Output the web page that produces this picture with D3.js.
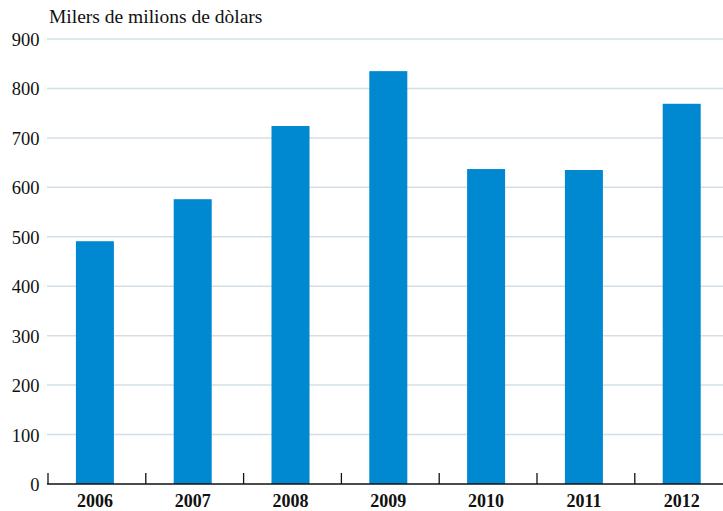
<!DOCTYPE html>
<html>
<head>
<meta charset="utf-8">
<script src="https://cdn.jsdelivr.net/npm/d3@7"></script>
<style>
  body { margin: 0; background: #fff; }
  text { font-family: "Liberation Serif", "DejaVu Serif", serif; fill: #111; }
</style>
</head>
<body>
<div id="chart"></div>
<script>
const years = ["2006", "2007", "2008", "2009", "2010", "2011", "2012"];
const values = [491, 576, 724, 835, 637, 635, 769];
const yTicks = [0, 100, 200, 300, 400, 500, 600, 700, 800, 900];

const width = 723,
  height = 511;
const margin = { top: 39, right: 0, bottom: 27, left: 47 };

const svg = d3.select("#chart")
  .append("svg")
  .attr("width", width)
  .attr("height", height);

const x = d3.scaleBand()
  .domain(years)
  .range([margin.left, margin.left + 7 * 97.8]);

const y = d3.scaleLinear()
  .domain([0, 900])
  .range([height - margin.bottom, margin.top]);

// gridlines
svg.append("g")
  .selectAll("line")
  .data(yTicks.filter(d => d > 0))
  .enter()
  .append("line")
  .attr("x1", margin.left)
  .attr("x2", width)
  .attr("y1", d => y(d))
  .attr("y2", d => y(d))
  .style("stroke", "#d3dfe5")
  .style("stroke-width", "1.5px");

// bars
const barW = 38;
svg.append("g")
  .selectAll("rect")
  .data(values)
  .enter()
  .append("rect")
  .attr("x", (d, i) => x(years[i]) + x.bandwidth() / 2 - barW / 2 - 1)
  .attr("y", d => y(d))
  .attr("width", barW)
  .attr("height", d => y(0) - y(d))
  .attr("fill", "#0088d1");

// baseline + ticks
svg.append("line")
  .attr("x1", margin.left)
  .attr("x2", width)
  .attr("y1", y(0))
  .attr("y2", y(0))
  .style("stroke", "#111")
  .style("stroke-width", "1.5px");

svg.append("g")
  .selectAll("line")
  .data(years)
  .enter()
  .append("line")
  .attr("x1", d => x(d) + 1)
  .attr("x2", d => x(d) + 1)
  .attr("y1", y(0))
  .attr("y2", y(0) - 11)
  .style("stroke", "#111")
  .style("stroke-width", "1.3px");

// y labels
svg.append("g")
  .selectAll("text")
  .data(yTicks)
  .enter()
  .append("text")
  .attr("x", 39.5)
  .attr("y", d => y(d) + 7)
  .attr("text-anchor", "end")
  .style("font-size", "18.5px")
  .text(d => d);

// x labels
svg.append("g")
  .selectAll("text")
  .data(years)
  .enter()
  .append("text")
  .attr("x", d => x(d) + x.bandwidth() / 2 - 1)
  .attr("y", y(0) + 22.5)
  .attr("text-anchor", "middle")
  .style("font-size", "18px")
  .style("font-weight", "bold")
  .text(d => d);

// title
svg.append("text")
  .attr("x", 49)
  .attr("y", 23)
  .style("font-size", "19.5px")
  .text("Milers de milions de dòlars");
</script>
</body>
</html>
